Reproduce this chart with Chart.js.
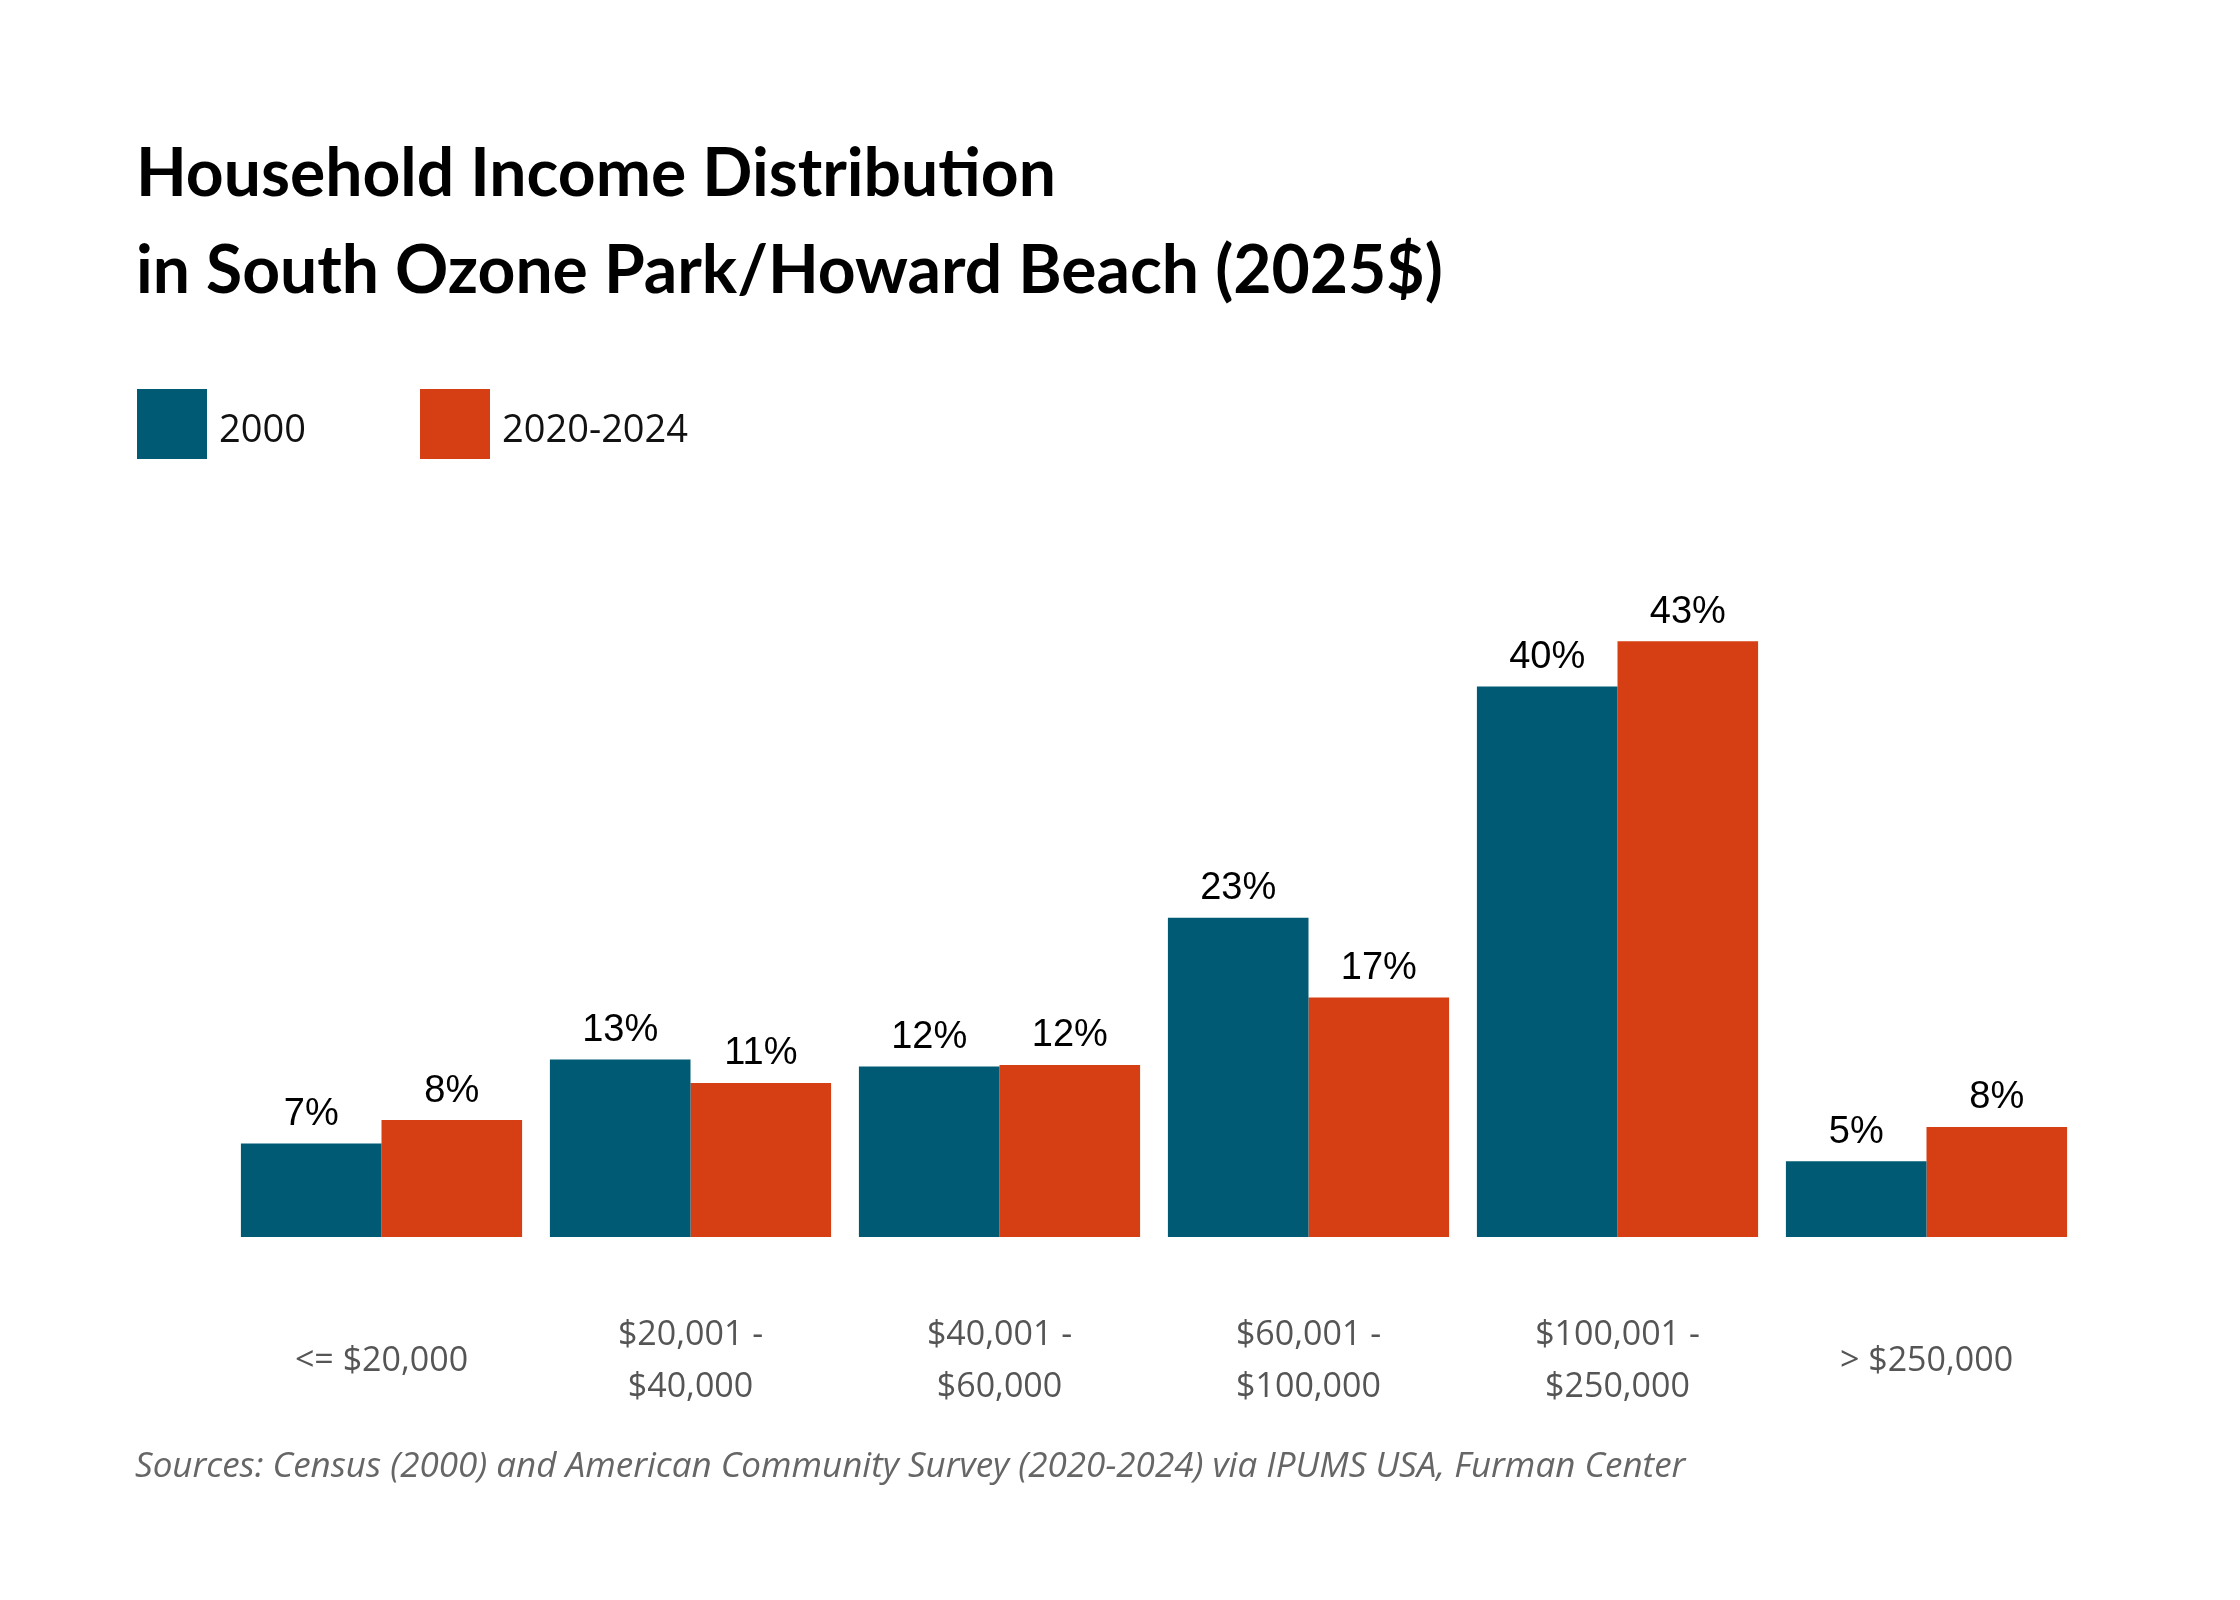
<!DOCTYPE html>
<html>
<head>
<meta charset="UTF-8">
<script src="https://cdn.jsdelivr.net/npm/chart.js"></script>
<style>
  body { margin: 0; background: #fff; font-family: "Open Sans", Lato, sans-serif; }
  #wrap { position: relative; width: 2240px; height: 1600px; }
  canvas { position: absolute; left: 0; top: 0; }
  .title { position: absolute; left: 136px; top: 122px; font-size: 66px; font-weight: 700; line-height: 97px; color: #000; font-family: Lato, sans-serif; }
  .legend { position: absolute; top: 389px; left: 137px; font-size: 38px; color: #111; }
  .legend span.box { position: absolute; width: 70px; height: 70px; }
  .legend span.lab { position: absolute; top: 12px; white-space: nowrap; }
  .source { position: absolute; left: 135px; top: 1440px; font-size: 35px; font-style: italic; color: #666; }
</style>
</head>
<body>
<div id="wrap">
  <canvas id="chart" width="2240" height="1600"></canvas>
  <div class="title">Household Income Distribution<br>in South Ozone Park/Howard Beach (2025$)</div>
  <div class="legend">
    <span class="box" style="left:0;background:#005A74"></span><span class="lab" style="left:82px">2000</span>
    <span class="box" style="left:283px;background:#D63F13"></span><span class="lab" style="left:365px">2020-2024</span>
  </div>
  <div class="source">Sources: Census (2000) and American Community Survey (2020-2024) via IPUMS USA, Furman Center</div>
</div>
<script>
const categories = [['<= $20,000'], ['$20,001 -', '$40,000'], ['$40,001 -', '$60,000'], ['$60,001 -', '$100,000'], ['$100,001 -', '$250,000'], ['> $250,000']];
const values2000 = [6.8, 12.9, 12.4, 23.2, 40, 5.5];
const values2024 = [8.5, 11.2, 12.5, 17.4, 43.3, 8.0];
const labels2000 = ['7%', '13%', '12%', '23%', '40%', '5%'];
const labels2024 = ['8%', '11%', '12%', '17%', '43%', '8%'];

const labelPlugin = {
  id: 'labels',
  afterDraw(chart) {
    const ctx = chart.ctx;
    ctx.save();
    ctx.textAlign = 'center';
    ctx.font = '38px "Liberation Sans", Arial, sans-serif';
    ctx.fillStyle = '#000';
    ctx.textBaseline = 'bottom';
    [labels2000, labels2024].forEach((labs, di) => {
      chart.getDatasetMeta(di).data.forEach((bar, i) => {
        ctx.fillText(labs[i], bar.x, bar.y - 10);
      });
    });
    const xs = chart.scales.x;
    ctx.font = '34px "Open Sans", Lato, sans-serif';
    ctx.fillStyle = '#555';
    ctx.textBaseline = 'middle';
    categories.forEach((lines, i) => {
      const x = xs.getPixelForValue(i);
      if (lines.length === 1) ctx.fillText(lines[0], x, 1361);
      else { ctx.fillText(lines[0], x, 1335); ctx.fillText(lines[1], x, 1387); }
    });
    ctx.restore();
  }
};

new Chart(document.getElementById('chart'), {
  type: 'bar',
  data: {
    labels: categories.map(c => c.join(' ')),
    datasets: [
      { label: '2000', data: values2000, backgroundColor: '#005A74' },
      { label: '2020-2024', data: values2024, backgroundColor: '#D63F13' }
    ]
  },
  options: {
    responsive: false,
    animation: false,
    layout: { padding: { left: 227, right: 159, top: 549, bottom: 363 } },
    datasets: { bar: { categoryPercentage: 0.91, barPercentage: 1.0 } },
    plugins: { legend: { display: false }, tooltip: { enabled: false } },
    scales: {
      x: { display: false },
      y: { display: false, min: 0, max: 50 }
    }
  },
  plugins: [labelPlugin]
});
</script>
</body>
</html>
